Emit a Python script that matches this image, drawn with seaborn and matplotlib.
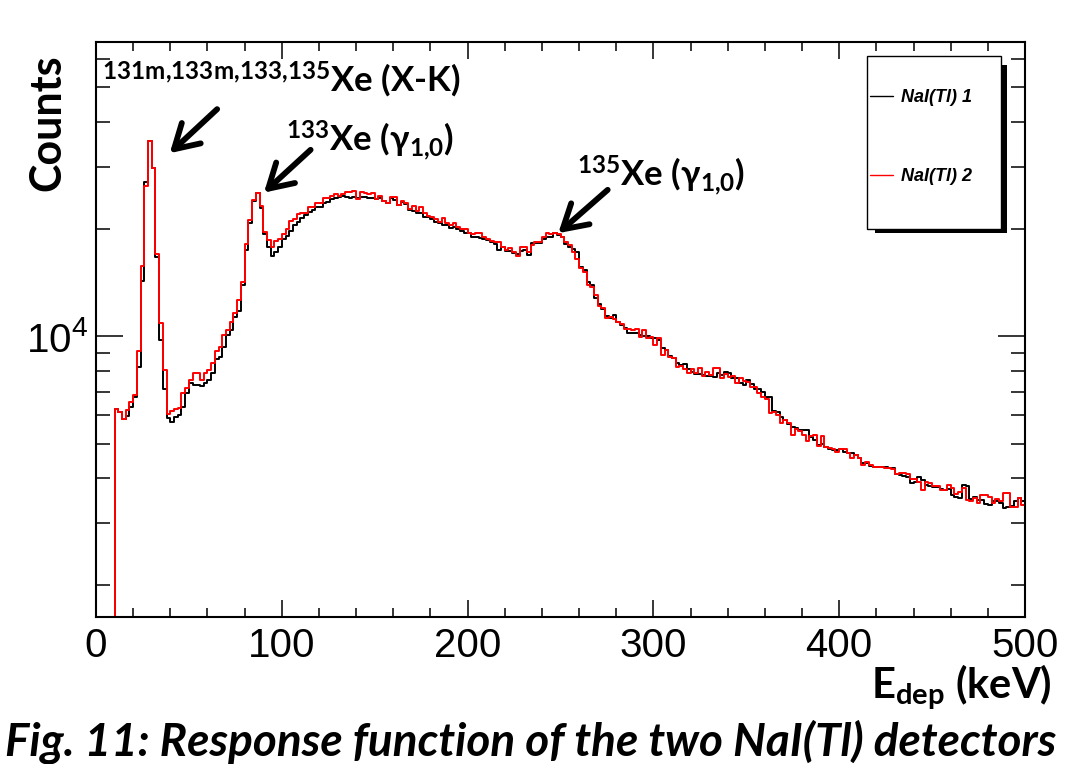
import numpy as np
import pandas as pd
import matplotlib
matplotlib.use("Agg")
import matplotlib.pyplot as plt
import seaborn as sns
from matplotlib.ticker import LogLocator, NullFormatter, MultipleLocator, FixedLocator
from matplotlib.patches import Rectangle
from matplotlib.lines import Line2D

# ---------------- data (2 keV bins, 0-500 keV) ----------------
bin_width = 2
bin_range = (0, 500)
bin_centers = np.arange(bin_range[0], bin_range[1], bin_width) + bin_width / 2

labels = ["NaI(Tl) 1", "NaI(Tl) 2"]
colors = ["black", "red"]

counts_nai1 = [
    0, 0, 0, 0, 0,
    6260, 6150, 5850, 5980, 6340, 6760, 8210, 14320, 27220, 35480,
    29690, 16760, 9780, 7120, 5910, 5760, 5950, 6020, 6350, 6930,
    7390, 7310, 7310, 7260, 7390, 7550, 7880, 8630, 8780, 9360,
    10100, 10430, 11340, 11790, 13950, 17500, 20880, 24020, 25220, 22960,
    19410, 17840, 16830, 17270, 17840, 18790, 19160, 19790, 20570, 20980,
    21530, 21880, 22420, 22670, 23070, 23160, 23670, 23920, 24300, 24450,
    24710, 24820, 24710, 24500, 24710, 24450, 24710, 24610, 24450, 24450,
    24300, 24450, 24070, 23670, 24500, 24180, 23410, 23920, 23560, 22670,
    22570, 22190, 22280, 21710, 21630, 21350, 21020, 20880, 20570, 20570,
    20140, 20350, 20010, 19830, 19500, 19500, 19070, 19000, 18880, 18750,
    18670, 18470, 18190, 17500, 17810, 17420, 17420, 17200, 17050, 17420,
    17500, 16940, 18280, 18280, 18350, 18750, 19070, 19070, 19570, 19280,
    19000, 18190, 17880, 17620, 17270, 15680, 15370, 14230, 13950, 12830,
    12340, 11950, 11420, 11270, 11490, 11000, 10770, 10570, 10250, 10250,
    10250, 10100, 10030, 10030, 9900, 9900, 9780, 9280, 9160, 8820,
    8700, 8410, 8320, 8370, 8090, 7960, 7850, 7850, 7800, 7750,
    7750, 7710, 7880, 7800, 7960, 7910, 7650, 7650, 7400, 7310,
    7550, 7350, 7110, 7110, 7000, 6780, 6780, 6190, 6150, 5950,
    5830, 5680, 5560, 5520, 5460, 5460, 5460, 5210, 5120, 4960,
    4990, 4900, 4820, 4800, 4800, 4820, 4750, 4720, 4700, 4650,
    4550, 4400, 4400, 4330, 4310, 4290, 4290, 4310, 4260, 4260,
    4110, 4080, 4060, 4040, 3870, 3910, 4020, 3950, 3830, 3790,
    3770, 3770, 3720, 3710, 3720, 3590, 3550, 3510, 3830, 3790,
    3490, 3530, 3470, 3470, 3380, 3360, 3460, 3440, 3400, 3290,
    3310, 3340, 3440, 3510, 3440,
]

counts_nai2 = [
    0, 0, 0, 0, 0,
    6260, 6150, 5850, 6220, 6560, 6850, 9110, 15810, 26530, 35480,
    29690, 17050, 10890, 8050, 6060, 6190, 6240, 6290, 6930, 7150,
    7550, 7910, 7880, 7550, 7910, 8050, 8440, 9120, 9330, 10100,
    10430, 10980, 11640, 12660, 14230, 18190, 21250, 24180, 25350, 23260,
    19660, 18670, 17840, 18550, 18790, 19410, 20050, 21110, 21390, 22090,
    22280, 22280, 23070, 23110, 23760, 23760, 24450, 24450, 24820, 25140,
    24820, 25140, 25520, 25520, 25680, 24300, 25520, 25260, 25140, 25260,
    24300, 24820, 24070, 23670, 24710, 24710, 23410, 24070, 23670, 22770,
    23260, 22570, 23070, 22190, 21810, 21630, 21350, 21020, 21490, 20800,
    20570, 20800, 20350, 20010, 20010, 19500, 19410, 19500, 19570, 19000,
    18750, 18590, 18470, 18470, 17880, 17500, 17700, 17310, 16830, 17880,
    17880, 17310, 18080, 18470, 18470, 19070, 19570, 19410, 19570, 19410,
    19000, 18470, 18080, 17270, 16510, 15570, 15180, 13950, 13770, 13080,
    12180, 12020, 11270, 11340, 11200, 11000, 10840, 10500, 10500, 10430,
    10500, 9970, 10430, 9900, 9970, 9470, 9900, 8870, 9160, 8760,
    8700, 8230, 8260, 8090, 7910, 8090, 7880, 8140, 7750, 7960,
    7800, 8140, 8140, 7630, 7850, 7710, 7750, 7420, 7630, 7510,
    7460, 7200, 7200, 6950, 6750, 6660, 6080, 6150, 6020, 5730,
    5830, 5730, 5290, 5490, 5440, 5290, 5100, 5250, 5290, 4920,
    5250, 4900, 4850, 4820, 4750, 4820, 4820, 4700, 4550, 4650,
    4550, 4350, 4450, 4350, 4290, 4310, 4290, 4260, 4260, 4240,
    4110, 4140, 4140, 4110, 3970, 3970, 3910, 3710, 3910, 3870,
    3800, 3790, 3710, 3710, 3830, 3750, 3610, 3660, 3750, 3470,
    3460, 3510, 3410, 3590, 3590, 3550, 3410, 3490, 3440, 3630,
    3630, 3330, 3330, 3510, 3360,
]

x_ticks = [0, 100, 200, 300, 400, 500]
x_range = (0, 500)
y_range = (1630, 67100)

# ---------------- style ----------------
sns.set_theme(style="ticks")
plt.rcParams["font.family"] = ["Liberation Sans", "DejaVu Sans"]
plt.rcParams["mathtext.default"] = "regular"
plt.rcParams["text.color"] = "black"
plt.rcParams["axes.labelcolor"] = "black"
plt.rcParams["xtick.color"] = "black"
plt.rcParams["ytick.color"] = "black"

W, H = 1071, 764
fig = plt.figure(figsize=(W / 100, H / 100), dpi=100)
fig.patch.set_facecolor("white")
ax = fig.add_axes([96 / W, 1 - 617 / H, 929 / W, 575 / H])
ax.set_facecolor("white")

frames = []
for lab, cnt in zip(labels, [counts_nai1, counts_nai2]):
    frames.append(pd.DataFrame({"E": bin_centers, "counts": cnt, "detector": lab}))
df = pd.concat(frames, ignore_index=True)

for lab, col in zip(labels, colors):
    sns.histplot(data=df[df["detector"] == lab], x="E", weights="counts",
                 binwidth=bin_width, binrange=bin_range, element="step",
                 fill=False, color=col, linewidth=1.4, ax=ax)

ax.set_yscale("log")
ax.set_xlim(*x_range)
ax.set_ylim(*y_range)
ax.set_xlabel("")
ax.set_ylabel("")

for sp in ax.spines.values():
    sp.set_visible(True)
    sp.set_linewidth(1.5)
    sp.set_color("black")

ax.xaxis.set_major_locator(FixedLocator(x_ticks))
ax.xaxis.set_minor_locator(MultipleLocator(20))
ax.yaxis.set_major_locator(LogLocator(base=10))
ax.yaxis.set_minor_locator(LogLocator(base=10, subs=np.arange(2, 10)))
ax.yaxis.set_minor_formatter(NullFormatter())

ax.tick_params(axis="x", which="major", direction="in", length=12, width=1.1,
               top=True, bottom=True, labelsize=29, pad=7, colors="black")
ax.tick_params(axis="x", which="minor", direction="in", length=6.5, width=1.1,
               top=True, bottom=True, colors="black")
ax.tick_params(axis="y", which="major", direction="in", length=19.5, width=1.1,
               left=True, right=True, labelsize=29, pad=6, colors="black")
ax.tick_params(axis="y", which="minor", direction="in", length=10, width=1.1,
               left=True, right=True, colors="black")
for t in ax.get_xticklabels() + ax.get_yticklabels():
    t.set_fontfamily("Liberation Sans")

# ---------------- axis titles ----------------
bold_font = ["Lato", "DejaVu Sans"]
fig.text(47 / W, 1 - 123 / H, "Counts", rotation=90, ha="center", va="center",
         fontsize=31, fontweight="bold", family=bold_font, color="black")
fig.text(1052 / W, 1 - 698 / H, r"E$_{dep}$ (keV)", ha="right", va="baseline",
         fontsize=30, fontweight="bold", family=bold_font, color="black")
fig.text(531 / W, 1 - 742 / H,
         "Fig. 11: Response function of the two NaI(Tl) detectors",
         ha="center", va="center", fontsize=33, fontweight="bold",
         fontstyle="italic", family=bold_font, color="black")

# ---------------- annotations ----------------
ann_kw = dict(transform=ax.transAxes, fontsize=25, fontweight="bold",
              family=bold_font, ha="left", va="baseline", zorder=8,
              color="black")
ax.text(0.0065, 0.913, r"$^{131m{,}133m{,}133{,}135}$Xe (X-K)", **ann_kw)
ax.text(0.2040, 0.8087, r"$^{133}$Xe (γ$_{1{,}0}$)", **ann_kw)
ax.text(0.5175, 0.7478, r"$^{135}$Xe (γ$_{1{,}0}$)", **ann_kw)

arrow_kw = dict(arrowstyle="->,head_length=0.85,head_width=0.5", lw=4.2,
                color="black", mutation_scale=20, shrinkA=0, shrinkB=0)
arrows = [((39.7, 32700), (65.2, 43470)),
          ((90.4, 25340), (115.5, 33420)),
          ((248.8, 19500), (275.4, 25800))]
for tip, tail in arrows:
    ax.annotate("", xy=tip, xytext=tail, xycoords="data", textcoords="data",
                arrowprops=arrow_kw, zorder=8)

# ---------------- legend (ROOT-style box with shadow) ----------------
shadow = Rectangle((875 / W, 1 - 233 / H), (1007 - 875) / W, (233 - 65) / H,
                   transform=fig.transFigure, facecolor="black",
                   edgecolor="none", zorder=5)
box = Rectangle((867 / W, 1 - 229 / H), 134 / W, 173 / H,
                transform=fig.transFigure, facecolor="white",
                edgecolor="black", lw=1, zorder=6)
ax.add_patch(shadow)
ax.add_patch(box)
handles = [Line2D([], [], color=c, lw=1) for c in colors]
leg = ax.legend(handles, labels, loc="upper left",
                bbox_to_anchor=(870 / W, 1 - 89 / H),
                bbox_transform=fig.transFigure, frameon=False,
                prop=dict(family="Liberation Sans", weight="bold",
                          style="italic", size=13),
                handlelength=1.25, handletextpad=0.45, labelspacing=3.45,
                borderpad=0, borderaxespad=0)
for t in leg.get_texts():
    t.set_color("black")
leg.set_zorder(7)

fig.savefig("out.png", dpi=100, facecolor="white")
